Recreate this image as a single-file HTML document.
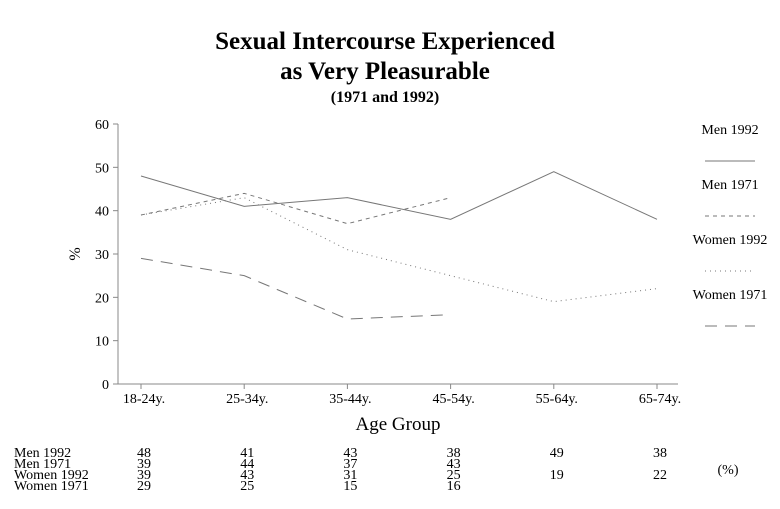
<!DOCTYPE html>
<html><head><meta charset="utf-8"><style>
body{margin:0;background:#fff;}
svg text{font-family:"Liberation Serif",serif;fill:#000;}
</style></head><body>
<svg width="780" height="504" viewBox="0 0 780 504" id="c">
<text x="385" y="49" text-anchor="middle" font-size="25" font-weight="bold">Sexual Intercourse Experienced</text>
<text x="385" y="79" text-anchor="middle" font-size="25" font-weight="bold">as Very Pleasurable</text>
<text x="385" y="102" text-anchor="middle" font-size="16" font-weight="bold">(1971 and 1992)</text>
<text x="80" y="254" text-anchor="middle" font-size="16" transform="rotate(-90 80 254)">%</text>
<text x="398" y="430" text-anchor="middle" font-size="19">Age Group</text>
<text x="728" y="474" text-anchor="middle" font-size="14">(%)</text>
<g id="g"></g>
</svg>
<script>
const categories=["18-24y.","25-34y.","35-44y.","45-54y.","55-64y.","65-74y."];
const seriesNames=["Men 1992","Men 1971","Women 1992","Women 1971"];
const men1992=[48,41,43,38,49,38];
const men1971=[39,44,37,43,null,null];
const women1992=[39,43,31,25,19,22];
const women1971=[29,25,15,16,null,null];
const yTicks=[0,10,20,30,40,50,60];
const NS="http://www.w3.org/2000/svg";
const g=document.getElementById('g');
const x=i=>141+i*103.2, y=v=>384-v*260/60;
function mk(t,a){const e=document.createElementNS(NS,t);for(const k in a)e.setAttribute(k,a[k]);g.appendChild(e);return e;}
let ax=mk('path',{d:`M118 ${y(60)} V384 H678`,stroke:'#888',fill:'none'});


yTicks.forEach(v=>{
 const l=mk('line',{x1:113,x2:118,y1:y(v),y2:y(v),stroke:'#888'});
 
 
 const t=mk('text',{x:109,y:y(v)+5,'text-anchor':'end','font-size':14});t.textContent=v;
 
 
});
categories.forEach((c,i)=>{
 const l=mk('line',{x1:x(i),x2:x(i),y1:384,y2:389,stroke:'#888'});
 
 
 const t=mk('text',{x:x(i)+3,y:403,'text-anchor':'middle','font-size':14});t.textContent=c;
 
 
});
const data=[men1992,men1971,women1992,women1971];
const dashes=['none','4 4','1 4','12 8'];
data.forEach((s,k)=>{
 let d='';s.forEach((v,i)=>{if(v!=null)d+=(d?'L':'M')+x(i)+' '+y(v);});
 const p=mk('path',{d,stroke:'#777',fill:'none','stroke-width':1,'stroke-dasharray':dashes[k]});
 
 
 const ly=129+k*55;
 const t=mk('text',{x:730,y:ly+5,'text-anchor':'middle','font-size':14});t.textContent=seriesNames[k];
 
 
 const ll=mk('line',{x1:705,x2:755,y1:ly+32,y2:ly+32,stroke:'#777','stroke-dasharray':dashes[k]});
 
 
 const rl=mk('text',{x:14,y:457+k*11,'font-size':14});rl.textContent=seriesNames[k];
 
 
 s.forEach((v,i)=>{if(v==null)return;
  const ty=(i>=4)?(k===0?457:479):457+k*11;
  const tv=mk('text',{x:x(i)+3,y:ty,'text-anchor':'middle','font-size':14});tv.textContent=v;
  
  
 });
});
</script>
</body></html>
